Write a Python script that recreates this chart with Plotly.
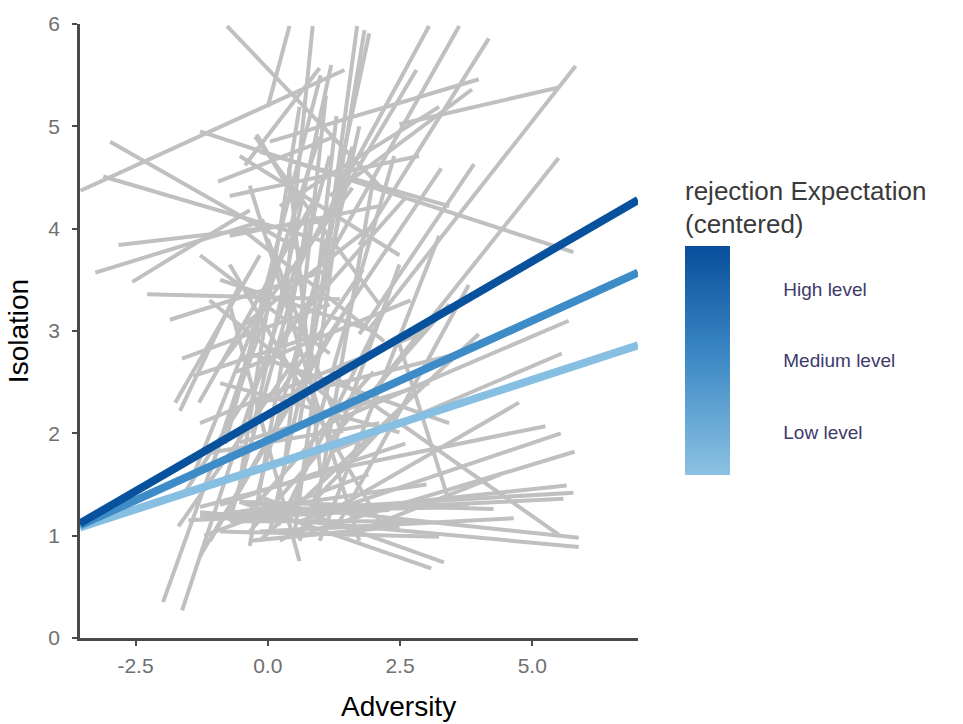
import plotly.graph_objects as go

# ---- individual (per-person) fitted lines: start/end x (Adversity) and y (Isolation)
seg_x0 = [-3.54, -0.77, -2.98, -3.11, -3.26, -2.82, -2.56, -2.28, -1.85, -0.94,
          0.00, 0.32, -0.21, 0.98, 0.60, 1.26, 0.60, 1.17, 1.73, 1.92,
          2.49, 0.04, 1.17, 1.17, 2.11, 1.73, 1.17, -1.28, 1.17, 1.17,
          0.98, 0.60, 0.79, -0.72, -0.34, -1.28, -0.53, -0.15, -0.53, -1.28,
          -0.53, -0.15, 1.17, 2.49, -1.98, -1.62, -1.66, -1.75, -1.62, -1.41,
          -1.69, -1.28, -1.56, -1.09, -0.90, -0.53, -0.34, -0.72, -0.15, 0.23,
          -0.34, 0.60, -0.72, -0.34, 0.04, 0.41, -0.53, -1.09, 0.98, 1.36,
          -0.72, -0.34, -1.28, -1.28, -0.53, -0.24, -0.72, -0.15, 0.23, -0.72,
          -0.43, -1.28, -0.90, -0.53, -0.15, -1.09, -0.34, -0.72, -0.90, -1.20,
          0.20, -0.60, 0.50, -1.00, 0.90, -1.50, 1.50,
          -0.80, -0.30, 0.30, -1.00, 0.10, -0.60, -1.10, 0.00, -0.50, 0.70,
          -1.30, -0.20, 0.40, -0.90, 0.20, -0.40, 0.80, -1.40]
seg_y0 = [4.37, 5.98, 4.85, 4.51, 3.57, 3.84, 3.48, 3.36, 3.11, 4.46,
          5.19, 3.26, 4.92, 3.26, 2.10, 4.32, 3.65, 3.74, 3.84, 3.02,
          5.02, 4.85, 4.32, 4.13, 2.49, 2.97, 2.97, 4.95, 2.10, 1.81,
          1.62, 1.14, 1.04, 1.14, 1.23, 1.19, 1.33, 1.04, 1.33, 1.23,
          1.33, 1.38, 2.58, 2.87, 0.35, 0.27, 2.22, 2.30, 2.73, 2.56,
          1.09, 0.80, 1.43, 0.95, 1.04, 1.14, 0.95, 1.23, 0.95, 0.95,
          1.04, 0.95, 1.14, 0.90, 1.04, 1.14, 1.52, 1.62, 0.95, 1.14,
          3.65, 4.42, 3.74, 1.28, 4.71, 4.90, 4.32, 4.75, 4.22, 3.93,
          4.62, 2.10, 2.49, 1.91, 2.30, 1.81, 2.78, 3.26, 1.30, 1.00,
          1.10, 2.60, 1.00, 1.20, 1.20, 1.15, 1.00,
          1.90, 2.00, 1.60, 2.60, 2.30, 3.00, 3.30, 3.90, 4.00, 2.40,
          2.30, 1.40, 4.60, 3.50, 2.90, 1.20, 1.30, 1.60]
seg_x1 = [1.45, 2.11, 0.79, 1.17, -0.06, 1.17, -0.34, 1.36, 1.17, 1.26,
          0.41, 0.85, 0.60, 1.69, 1.83, 1.92, 3.05, 3.62, 4.18, 5.82,
          5.50, 3.99, 3.86, 2.81, 5.50, 3.90, 3.28, 5.78, 5.69, 5.56,
          5.25, 5.54, 5.80, 5.65, 5.78, 5.59, 4.27, 4.65, 5.88, 5.88,
          3.09, 3.33, 5.50, 3.43, 0.04, 0.60, -0.53, -0.15, 1.17, 0.98,
          0.60, 1.17, 0.98, 1.54, 3.24, 2.86, 2.49, 3.80, 3.99, 4.75,
          3.43, 2.49, 1.17, 0.79, 1.73, 2.39, 0.60, 0.98, 3.24, 3.80,
          2.11, 1.73, 1.17, 1.17, 2.49, 2.11, 2.86, 3.43, 3.24, 2.11,
          0.98, 2.86, 2.49, 3.05, 3.62, 2.11, 3.43, 0.60, 2.60, 1.90,
          2.20, 2.70, 1.40, 3.00, 2.00, 2.30, 4.40,
          1.00, 1.20, 1.10, 1.60, 1.80, 1.90, 1.50, 1.40, 2.20, 1.30,
          0.90, 1.60, 1.00, 2.00, 2.60, 2.00, 2.80, 0.40]
seg_y1 = [5.55, 4.42, 3.74, 3.86, 4.08, 4.08, 4.18, 3.31, 3.60, 4.90,
          5.98, 5.98, 4.22, 5.98, 5.94, 5.91, 5.98, 5.98, 5.86, 5.59,
          5.38, 5.46, 5.36, 5.55, 4.69, 4.63, 4.59, 3.77, 3.10, 2.78,
          2.07, 2.00, 1.82, 1.49, 1.42, 1.36, 1.26, 1.17, 0.98, 0.89,
          0.68, 0.74, 1.01, 1.33, 3.26, 3.74, 3.45, 3.74, 3.26, 2.97,
          2.78, 2.97, 3.45, 3.26, 0.99, 1.14, 1.09, 1.28, 2.97, 2.30,
          3.26, 3.65, 4.71, 4.22, 5.00, 4.71, 5.19, 4.90, 3.93, 3.45,
          1.14, 0.95, 2.78, 1.62, 3.74, 3.26, 4.71, 4.22, 5.19, 4.22,
          5.57, 2.97, 2.01, 2.49, 2.78, 2.10, 2.10, 0.75, 1.90, 1.60,
          3.20, 3.30, 4.40, 1.50, 4.50, 1.25, 1.60,
          5.50, 5.60, 5.30, 4.40, 3.60, 4.00, 2.20, 2.00, 2.90, 5.10,
          4.30, 4.80, 1.60, 3.00, 4.30, 2.60, 2.40, 3.90]

# ---- simple slopes by level of rejection expectation
levels = ["Low level", "Medium level", "High level"]
level_values = [-1, 0, 1]
slope_x = [-3.55, 7.0]
slope_y_low = [1.08, 2.86]
slope_y_medium = [1.10, 3.57]
slope_y_high = [1.12, 4.28]
level_colors = ["#86bfe1", "#3d8cc7", "#08519c"]

x_ticks = [-2.5, 0.0, 2.5, 5.0]
x_tick_text = ["-2.5", "0.0", "2.5", "5.0"]
y_ticks = [0, 1, 2, 3, 4, 5, 6]

fig = go.Figure()

gx, gy = [], []
for a, b, c, d in zip(seg_x0, seg_y0, seg_x1, seg_y1):
    gx += [a, c, None]
    gy += [b, d, None]
fig.add_trace(go.Scatter(x=gx, y=gy, mode="lines",
                         line=dict(color="#c0c0c0", width=4),
                         hoverinfo="skip", showlegend=False))

for ys, col, name in zip([slope_y_low, slope_y_medium, slope_y_high], level_colors, levels):
    fig.add_trace(go.Scatter(x=slope_x, y=ys, mode="lines", name=name,
                             line=dict(color=col, width=8),
                             showlegend=False))

# colorbar legend
fig.add_trace(go.Scatter(
    x=[0, 0], y=[-5, -5], mode="markers", hoverinfo="skip", showlegend=False,
    marker=dict(size=1, opacity=0, color=[-1.6, 1.6], cmin=-1.6, cmax=1.6,
                colorscale=[[0, "#8cc2e2"], [0.5, "#3f8bc6"], [1, "#084e9b"]],
                showscale=True,
                colorbar=dict(
                    x=(685 - 80) / 558, xanchor="left", xpad=0,
                    y=(638 - 473) / 622, yanchor="bottom", ypad=0,
                    thickness=45, len=298, lenmode="pixels",
                    outlinewidth=0,
                    tickvals=level_values, ticktext=levels,
                    ticks="outside", ticklen=50, tickcolor="rgba(0,0,0,0)",
                    tickfont=dict(size=19, color="#3d3a6b"),
                    title=dict(text="rejection Expectation<br>(centered)", side="top",
                               font=dict(size=26, color="#3a3a3a")),
                ))))

axis_common = dict(showline=True, linecolor="#4a4a4a", linewidth=2.5,
                   ticks="outside", ticklen=5, tickwidth=2, tickcolor="#4a4a4a",
                   showgrid=False, zeroline=False,
                   tickfont=dict(size=21, color="#707070"))

fig.update_xaxes(range=[-3.55, 7.0], tickvals=x_ticks, ticktext=x_tick_text,
                 ticklabelstandoff=2, **axis_common)
fig.update_yaxes(range=[0, 6], tickvals=y_ticks, ticklabelstandoff=8,
                 title=dict(text="Isolation", font=dict(size=28, color="#000"), standoff=12),
                 **axis_common)

fig.add_annotation(text="Adversity", xref="paper", yref="paper",
                   x=(398 - 80) / 558, y=(638 - 707) / 622,
                   xanchor="center", yanchor="middle", showarrow=False,
                   font=dict(size=28, color="#000"))

fig.update_layout(width=963, height=724,
                  margin=dict(l=80, r=325, t=16, b=86),
                  paper_bgcolor="white", plot_bgcolor="white",
                  font=dict(family="Liberation Sans, Arial, sans-serif"))

fig.write_html("out.html")
